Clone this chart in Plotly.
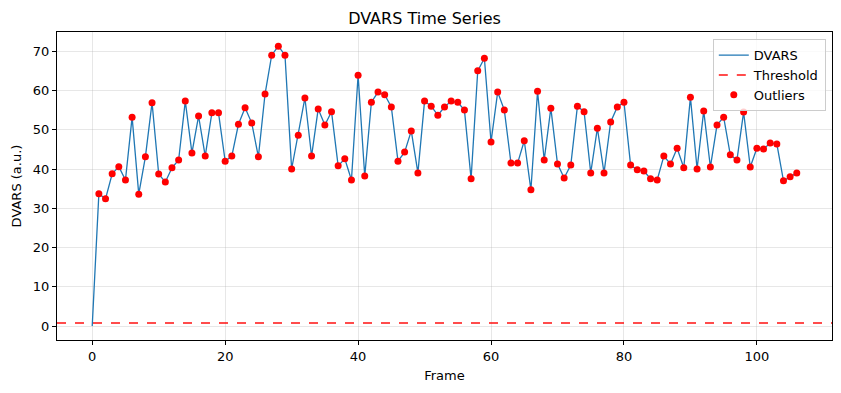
import plotly.graph_objects as go

frames = list(range(107))
dvars = [0.0,
         33.7, 32.4, 38.8, 40.6, 37.2, 53.2, 33.6, 43.1, 56.9, 38.7,
         36.7, 40.3, 42.3, 57.3, 44.1, 53.5, 43.3, 54.3, 54.3, 42.0,
         43.3, 51.4, 55.6, 51.7, 43.1, 59.1, 69.0, 71.3, 69.0, 40.0,
         48.6, 58.1, 43.3, 55.3, 51.2, 54.6, 40.8, 42.6, 37.2, 63.9,
         38.2, 57.0, 59.6, 58.9, 55.8, 42.0, 44.3, 49.7, 39.0, 57.3,
         56.0, 53.7, 55.8, 57.3, 57.0, 55.0, 37.5, 65.0, 68.2, 46.9,
         59.6, 55.0, 41.5, 41.5, 47.2, 34.7, 59.8, 42.3, 55.5, 41.3,
         37.7, 41.0, 56.0, 54.6, 39.0, 50.4, 39.0, 52.0, 55.8, 57.0,
         41.0, 39.8, 39.5, 37.5, 37.2, 43.3, 41.3, 45.3, 40.3, 58.3,
         40.0, 54.8, 40.5, 51.2, 53.2, 43.6, 42.3, 54.5, 40.5, 45.3,
         45.1, 46.6, 46.4, 37.0, 38.0, 39.0]
threshold = 0.75
outlier_frames = frames[1:]
outlier_values = dvars[1:]

x_range = [-5.3, 111.3]
y_range = [-3.56, 74.9]

fig = go.Figure()
fig.add_trace(go.Scatter(x=frames, y=dvars, mode="lines", name="DVARS",
                         line=dict(color="#1f77b4", width=1.3)))
fig.add_trace(go.Scatter(x=x_range, y=[threshold, threshold], mode="lines", name="Threshold",
                         line=dict(color="rgba(255,0,0,0.7)", width=2, dash="dash")))
fig.add_trace(go.Scatter(x=outlier_frames, y=outlier_values, mode="markers", name="Outliers",
                         marker=dict(color="red", size=7)))

axis_common = dict(showline=True, linecolor="black", linewidth=1, mirror=True,
                   ticks="outside", ticklen=4, tickcolor="black", automargin=False,
                   showgrid=True, gridcolor="rgba(176,176,176,0.3)", gridwidth=1,
                   zeroline=False, tickfont=dict(size=13, color="black"))

fig.update_layout(
    width=833, height=385,
    margin=dict(l=49, r=9, t=24, b=53),
    paper_bgcolor="white", plot_bgcolor="white",
    font=dict(family="DejaVu Sans", color="black"),
    title=dict(text="DVARS Time Series", x=0.5, xanchor="center", y=0.974, yanchor="middle",
               font=dict(size=16, color="black")),
    xaxis=dict(range=x_range, tickvals=[0, 20, 40, 60, 80, 100],
               title=dict(text="Frame", font=dict(size=13), standoff=8), **axis_common),
    yaxis=dict(range=y_range, tickvals=[0, 10, 20, 30, 40, 50, 60, 70],
               title=dict(text="DVARS (a.u.)", font=dict(size=13), standoff=8), **axis_common),
    legend=dict(x=0.992, y=0.977, xanchor="right", yanchor="top",
                bgcolor="rgba(255,255,255,0.8)", bordercolor="#cccccc", borderwidth=1,
                font=dict(size=13), itemwidth=30, tracegroupgap=0),
    showlegend=True,
)

fig.write_html("out.html")
